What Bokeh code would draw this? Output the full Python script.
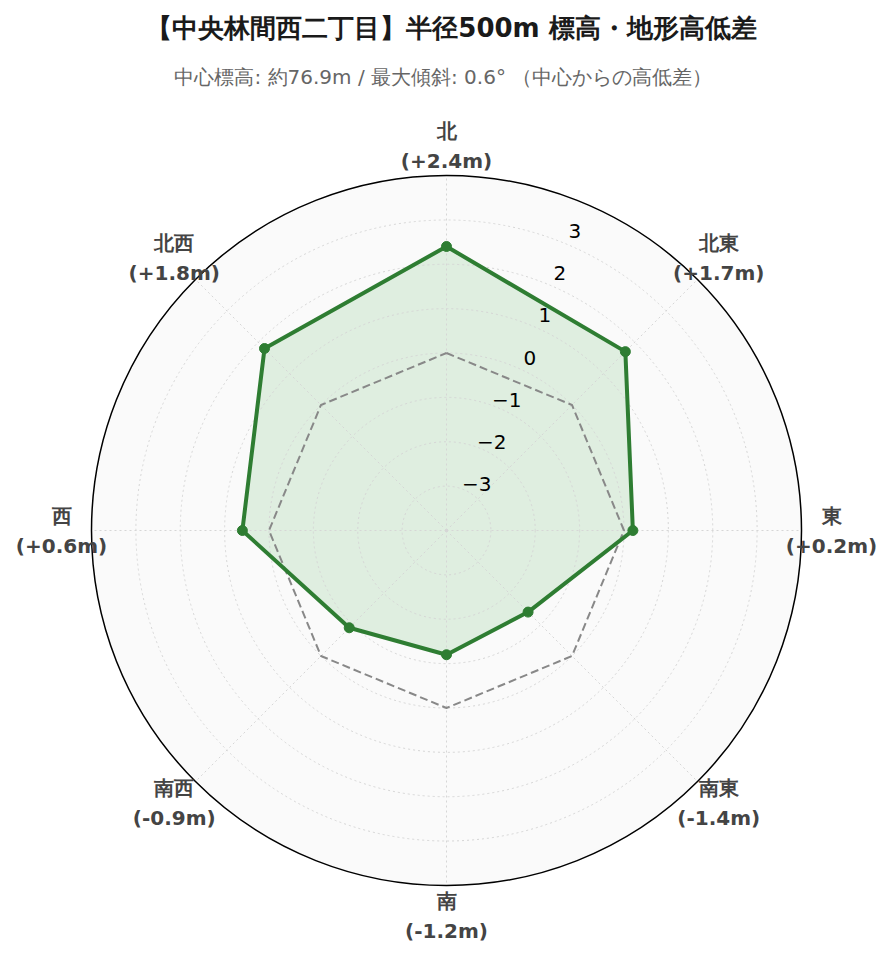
import numpy as np
from bokeh.plotting import figure
from bokeh.models import Range1d
from bokeh.core.properties import value
from bokeh.embed import file_html
from bokeh.resources import INLINE

# ---- data ----
directions = ["北", "北東", "東", "南東", "南", "南西", "西", "北西"]
diffs = [2.4, 1.7, 0.2, -1.4, -1.2, -0.9, 0.6, 1.8]
diff_labels = ["(+2.4m)", "(+1.7m)", "(+0.2m)", "(-1.4m)", "(-1.2m)", "(-0.9m)", "(+0.6m)", "(+1.8m)"]
radial_ticks = [-3, -2, -1, 0, 1, 2, 3]
radial_tick_labels = ["−3", "−2", "−1", "0", "1", "2", "3"]
r_min, r_max = -4, 4
title_text = "【中央林間西二丁目】半径500m 標高・地形高低差"
subtitle_text = "中心標高: 約76.9m / 最大傾斜: 0.6°  （中心からの高低差）"

# ---- geometry (1 data unit = 1 px) ----
W, H = 885, 954
CX_FIG, CY_FIG = 446, 530
R_OUT = 355.0
scale = R_OUT / (r_max - r_min)

def rad(v):
    return (np.asarray(v, dtype=float) - r_min) * scale

ang = np.deg2rad(np.arange(len(directions)) * 45.0)  # clockwise from north

def to_xy(r, a):
    return r * np.sin(a), r * np.cos(a)

p = figure(width=W, height=H, output_backend="svg", toolbar_location=None,
           x_range=Range1d(-CX_FIG, W - CX_FIG), y_range=Range1d(-(H - CY_FIG), CY_FIG),
           min_border=0, background_fill_color="white", border_fill_color="white")
p.axis.visible = False
p.grid.visible = False
p.outline_line_color = None

FONT = value("DejaVu Sans")

# polar background
p.circle(x=0, y=0, radius=R_OUT, fill_color="#fafafa", line_color=None)

# data fill (under grid)
dr = rad(diffs)
dx, dy = to_xy(dr, ang)
p.patch(list(dx), list(dy), fill_color="#4caf50", fill_alpha=0.15, line_color=None)

# grid circles
for t in radial_ticks:
    p.circle(x=0, y=0, radius=float(rad(t)), fill_color=None, line_color="#d6d6d6",
             line_width=1, line_dash="2 3")
# spokes
for a in ang:
    ex, ey = to_xy(R_OUT, a)
    p.line([0, ex], [0, ey], line_color="#d6d6d6", line_width=1, line_dash="2 3")

# outer circle
p.circle(x=0, y=0, radius=R_OUT, fill_color=None, line_color="black", line_width=1.5)

# zero reference polygon
zr = rad([0] * len(directions))
zx, zy = to_xy(zr, ang)
p.line(list(zx) + [zx[0]], list(zy) + [zy[0]], line_color="#888888", line_width=2, line_dash="8 4")

# data outline and markers
p.line(list(dx) + [dx[0]], list(dy) + [dy[0]], line_color="#2e7d32", line_width=4, line_join="round")
p.scatter(list(dx), list(dy), size=10, fill_color="#2e7d32", line_color="#2e7d32")

# radial tick labels (right-aligned along a line ~19.5 deg from north)
ta = np.deg2rad(19.5)
tr = rad(radial_ticks) * 1.01
tx, ty = to_xy(tr, ta)
p.text(list(tx + 30), list(ty + 4), text=radial_tick_labels, text_align="right", text_baseline="middle",
       text_font=FONT, text_font_size="20px", text_color="black")

# direction labels
lr = R_OUT + 30
lx, ly = to_xy(np.full(len(directions), lr), ang)
p.text(list(lx), list(ly + 15), text=directions, text_align="center", text_baseline="middle",
       text_font=FONT, text_font_size="20px", text_font_style="bold", text_color="#444444")
p.text(list(lx), list(ly - 15), text=diff_labels, text_align="center", text_baseline="middle",
       text_font=FONT, text_font_size="20px", text_font_style="bold", text_color="#444444")

# title & subtitle
p.text([5], [CY_FIG - 27], text=[title_text], text_align="center", text_baseline="middle",
       text_font=FONT, text_font_size="26px", text_font_style="bold", text_color="#1a1a1a")
p.text([0], [CY_FIG - 76], text=[subtitle_text], text_align="center", text_baseline="middle",
       text_font=FONT, text_font_size="20px", text_color="#666666")

open("out.html", "w").write(file_html(p, INLINE))
